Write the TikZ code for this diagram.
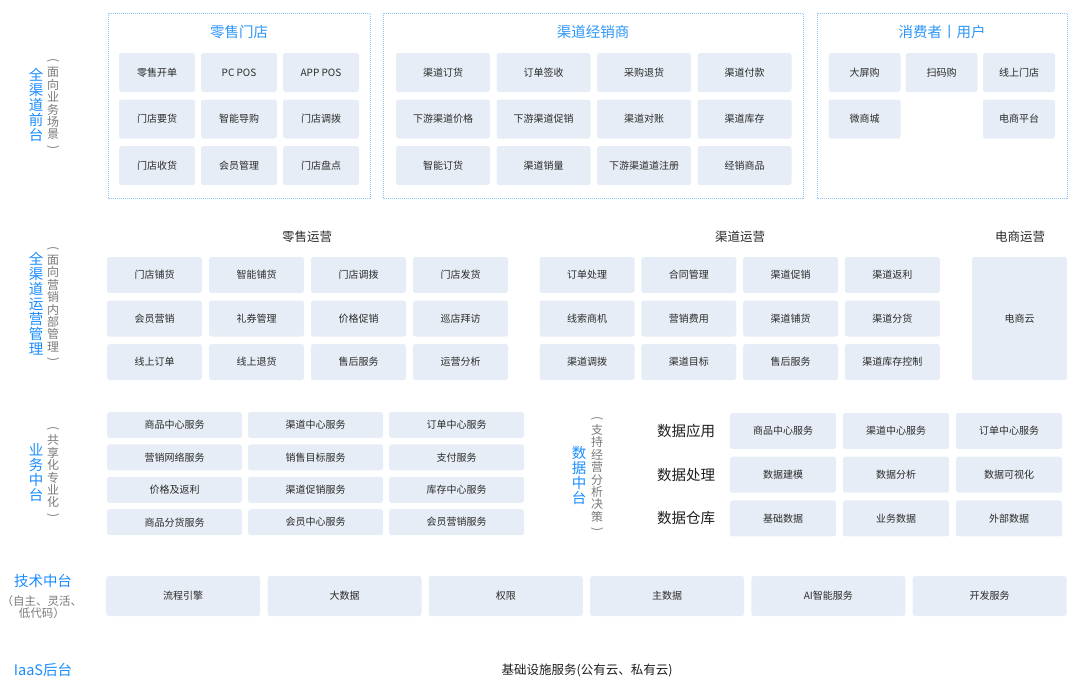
\documentclass[tikz,border=0pt]{standalone}
\usepackage{fontspec}
\setmainfont{Noto Sans CJK SC}
\usepackage{graphicx}
\definecolor{labblue}{HTML}{1A8CFF}
\definecolor{titleblue}{HTML}{2D96F8}
\definecolor{cellfill}{HTML}{E7EDF6}
\definecolor{boxc}{HTML}{8EC5F5}
\definecolor{celltext}{HTML}{2B2B2B}
\definecolor{subgray}{HTML}{7A7A7A}
\definecolor{darktext}{HTML}{1E1E1E}
\newcommand{\vpo}{\rotatebox[origin=c]{-90}{(}}
\newcommand{\vpc}{\rotatebox[origin=c]{-90}{)}}
\begin{document}
\begin{tikzpicture}[x=1pt,y=-1pt,
  cell/.style={fill=cellfill, rounded corners=2.5pt, text=celltext, font=\fontsize{10}{12}\selectfont, inner sep=0pt},
  dbox/.style={draw=boxc, dash pattern=on 1pt off 1pt, line width=0.8pt},
  ttl/.style={text=titleblue, font=\fontsize{14.5}{16}\selectfont, inner sep=0pt},
  vlab/.style={text=labblue, font=\fontsize{14.5}{15}\selectfont, align=center, inner sep=0pt},
  vsub/.style={text=subgray, font=\fontsize{12}{12.4}\selectfont, align=center, inner sep=0pt},
  hdr/.style={text=celltext, font=\fontsize{12.5}{14}\selectfont, inner sep=0pt},
  dlab/.style={text=darktext, font=\fontsize{14.5}{16}\selectfont, inner sep=0pt}]
\useasboundingbox (0,0) rectangle (1080,697);

% ---------- front layer ----------
\node[vlab] (lab1) at (36,105) {全\\渠\\道\\前\\台};
\node[vsub] (sub1) at (53,105) {\vpo\\面\\向\\业\\务\\场\\景\\\vpc};

\draw[dbox] (108,13) rectangle (370,198);
\draw[dbox] (383,13) rectangle (803,198);
\draw[dbox] (817,13) rectangle (1067,198);
\node[ttl] (t1) at (239,32) {零售门店};
\node[ttl] (t2) at (593,32) {渠道经销商};
\node[ttl] (t3) at (942,32) {消费者丨用户};

\foreach \t [count=\i from 0] in {零售开单,PC POS,APP POS,门店要货,智能导购,门店调拨,门店收货,会员管理,门店盘点}{
  \pgfmathtruncatemacro\c{mod(\i,3)}\pgfmathtruncatemacro\r{div(\i,3)}
  \node[cell,minimum width=76pt,minimum height=39pt] (rs\i) at ({157+82*\c},{72.5+46.5*\r}) {\t};
}
\foreach \t [count=\i from 0] in {渠道订货,订单签收,采购退货,渠道付款,下游渠道价格,下游渠道促销,渠道对账,渠道库存,智能订货,渠道销量,下游渠道道注册,经销商品}{
  \pgfmathtruncatemacro\c{mod(\i,4)}\pgfmathtruncatemacro\r{div(\i,4)}
  \node[cell,minimum width=94pt,minimum height=39pt] (cd\i) at ({443+100.5*\c},{72.5+46.5*\r}) {\t};
}
\node[cell,minimum width=72pt,minimum height=39pt] (cu1) at (864.5,72.5) {大屏购};
\node[cell,minimum width=72pt,minimum height=39pt] (cu2) at (941.5,72.5) {扫码购};
\node[cell,minimum width=72pt,minimum height=39pt] (cu3) at (1019,72.5) {线上门店};
\node[cell,minimum width=72pt,minimum height=39pt] (cu4) at (864.5,119) {微商城};
\node[cell,minimum width=72pt,minimum height=39pt] (cu5) at (1019,119) {电商平台};

% ---------- operations layer ----------
\node[vlab] (lab2) at (36,304) {全\\渠\\道\\运\\营\\管\\理};
\node[vsub] (sub2) at (53,305) {\vpo\\面\\向\\营\\销\\内\\部\\管\\理\\\vpc};

\node[hdr] (h1) at (307,237) {零售运营};
\node[hdr] (h2) at (740,237) {渠道运营};
\node[hdr] (h3) at (1020,237) {电商运营};

\foreach \t [count=\i from 0] in {门店铺货,智能铺货,门店调拨,门店发货,会员营销,礼券管理,价格促销,巡店拜访,线上订单,线上退货,售后服务,运营分析}{
  \pgfmathtruncatemacro\c{mod(\i,4)}\pgfmathtruncatemacro\r{div(\i,4)}
  \node[cell,minimum width=95pt,minimum height=36pt] (ro\i) at ({154.5+102*\c},{275+43.5*\r}) {\t};
}
\foreach \t [count=\i from 0] in {订单处理,合同管理,渠道促销,渠道返利,线索商机,营销费用,渠道铺货,渠道分货,渠道调拨,渠道目标,售后服务,渠道库存控制}{
  \pgfmathtruncatemacro\c{mod(\i,4)}\pgfmathtruncatemacro\r{div(\i,4)}
  \node[cell,minimum width=95pt,minimum height=36pt] (co\i) at ({587+101.8*\c},{275+43.5*\r}) {\t};
}
\node[cell,minimum width=95pt,minimum height=123pt] (eo) at (1019.5,318.5) {电商云};

% ---------- business middle ----------
\node[vlab] (lab3) at (36,473) {业\\务\\中\\台};
\node[vsub] (sub3) at (53,473) {\vpo\\共\\享\\化\\专\\业\\化\\\vpc};

\foreach \t [count=\i from 0] in {商品中心服务,渠道中心服务,订单中心服务,营销网络服务,销售目标服务,支付服务,价格及返利,渠道促销服务,库存中心服务,商品分货服务,会员中心服务,会员营销服务}{
  \pgfmathtruncatemacro\c{mod(\i,3)}\pgfmathtruncatemacro\r{div(\i,3)}
  \node[cell,minimum width=135pt,minimum height=26pt] (bm\i) at ({174.5+141*\c},{425+32.4*\r}) {\t};
}

% ---------- data middle ----------
\node[vlab] (lab4) at (579,475) {数\\据\\中\\台};
\node[vsub] (sub4) at (597,475) {\vpo\\支\\持\\经\\营\\分\\析\\决\\策\\\vpc};
\node[dlab] (d1) at (686,431) {数据应用};
\node[dlab] (d2) at (686,475) {数据处理};
\node[dlab] (d3) at (686,518.5) {数据仓库};
\foreach \t [count=\i from 0] in {商品中心服务,渠道中心服务,订单中心服务,数据建模,数据分析,数据可视化,基础数据,业务数据,外部数据}{
  \pgfmathtruncatemacro\c{mod(\i,3)}\pgfmathtruncatemacro\r{div(\i,3)}
  \node[cell,minimum width=106pt,minimum height=36pt] (dm\i) at ({783+113*\c},{431+43.7*\r}) {\t};
}

% ---------- tech middle ----------
\node[vlab] (lab5) at (43,581) {技术中台};
\node[vsub, font=\fontsize{11.5}{12}\selectfont] (sub5) at (42,607) {（自主、灵活、\\低代码）};
\foreach \t [count=\i from 0] in {流程引擎,大数据,权限,主数据,AI智能服务,开发服务}{
  \node[cell,minimum width=154pt,minimum height=40pt] (tm\i) at ({183.2+161.3*\i},596) {\t};
}

% ---------- IaaS ----------
\node[vlab] (lab6) at (43,670) {IaaS后台};
\node[text=darktext, font=\fontsize{12.5}{14}\selectfont, inner sep=0pt] (iaas) at (587,670) {基础设施服务(公有云、私有云)};
\end{tikzpicture}
\end{document}
